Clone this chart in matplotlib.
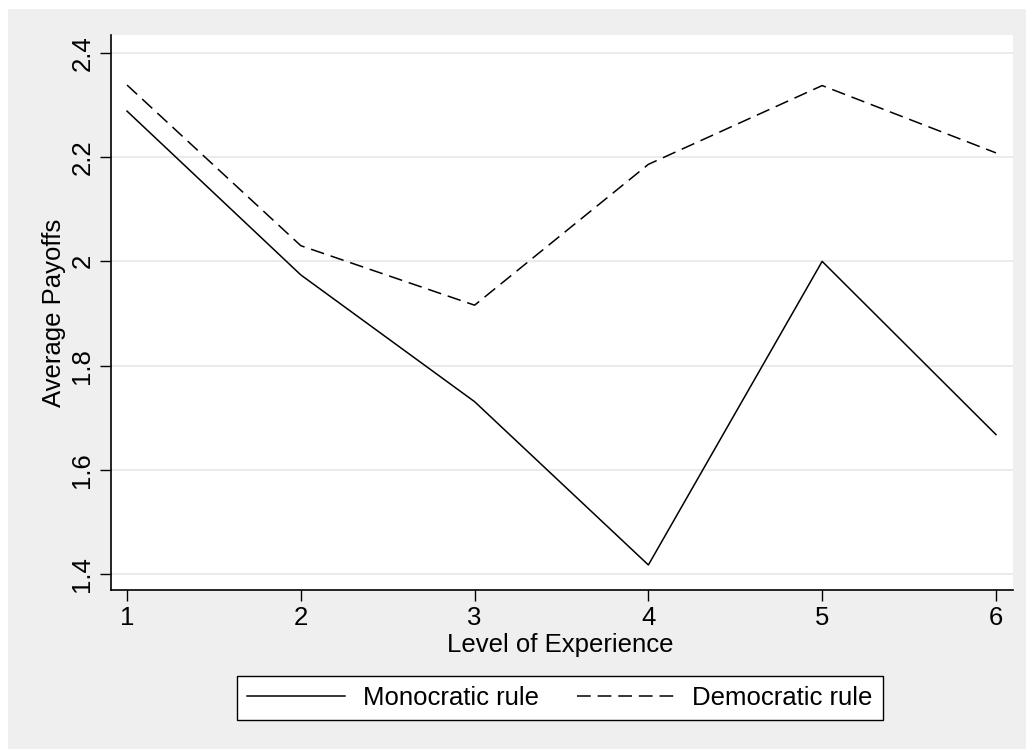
#!/usr/bin/env python3
"""Average payoffs by level of experience, Stata-like look."""

import matplotlib
matplotlib.use('Agg')
import matplotlib.pyplot as plt
from matplotlib.patches import Rectangle

levels = [1, 2, 3, 4, 5, 6]
monocratic = [2.288, 1.974, 1.731, 1.418, 2.000, 1.668]
democratic = [2.338, 2.030, 1.916, 2.186, 2.337, 2.208]

y_ticks = [1.4, 1.6, 1.8, 2.0, 2.2, 2.4]
y_tick_labels = ["1.4", "1.6", "1.8", "2", "2.2", "2.4"]

plt.rcParams['font.family'] = ['Liberation Sans', 'DejaVu Sans']
FS = 18.5

fig = plt.figure(figsize=(10.26, 7.49), dpi=100, facecolor='white')

# light gray graph region behind the plot
fig.patches.append(Rectangle((8 / 1026, 0), 1, 1 - 9 / 749, transform=fig.transFigure,
                             facecolor='#efefef', edgecolor='none', zorder=-10))

ax = fig.add_axes([0.1079, 0.2123, 0.8794, 0.741])
ax.set_facecolor('white')

ax.plot(levels, monocratic, color='black', lw=1.1, label='Monocratic rule')
ax.plot(levels, democratic, color='black', lw=1.1, linestyle=(0, (9, 4.5)),
        label='Democratic rule')

ax.set_xlim(0.906, 6.098)
ax.set_ylim(1.370, 2.434)
ax.set_xticks(levels)
ax.set_yticks(y_ticks)
ax.set_yticklabels(y_tick_labels, rotation=90, va='center')

ax.grid(axis='y', color='#e6e6e6', lw=1.1)
ax.set_axisbelow(True)

for side in ['top', 'right']:
    ax.spines[side].set_visible(False)
for side in ['left', 'bottom']:
    ax.spines[side].set_linewidth(1.2)

ax.tick_params(axis='both', direction='out', length=7.7, width=1.0, pad=4,
               labelsize=FS)

ax.set_xlabel('Level of Experience', fontsize=FS)
ax.set_ylabel('Average Payoffs', fontsize=FS)
ax.xaxis.set_label_coords(0.4985, -0.077)
ax.yaxis.set_label_coords(-0.0496, 0.5)

leg = fig.legend(loc='center', bbox_to_anchor=(0.5458, 0.0678), ncol=2,
                 fontsize=FS, frameon=True, fancybox=False, edgecolor='black',
                 facecolor='white', framealpha=1, handlelength=3.8,
                 handletextpad=0.68, columnspacing=1.5, borderpad=0.4)
leg.get_frame().set_linewidth(1.0)

fig.savefig('out.png', dpi=100, facecolor=fig.get_facecolor())
